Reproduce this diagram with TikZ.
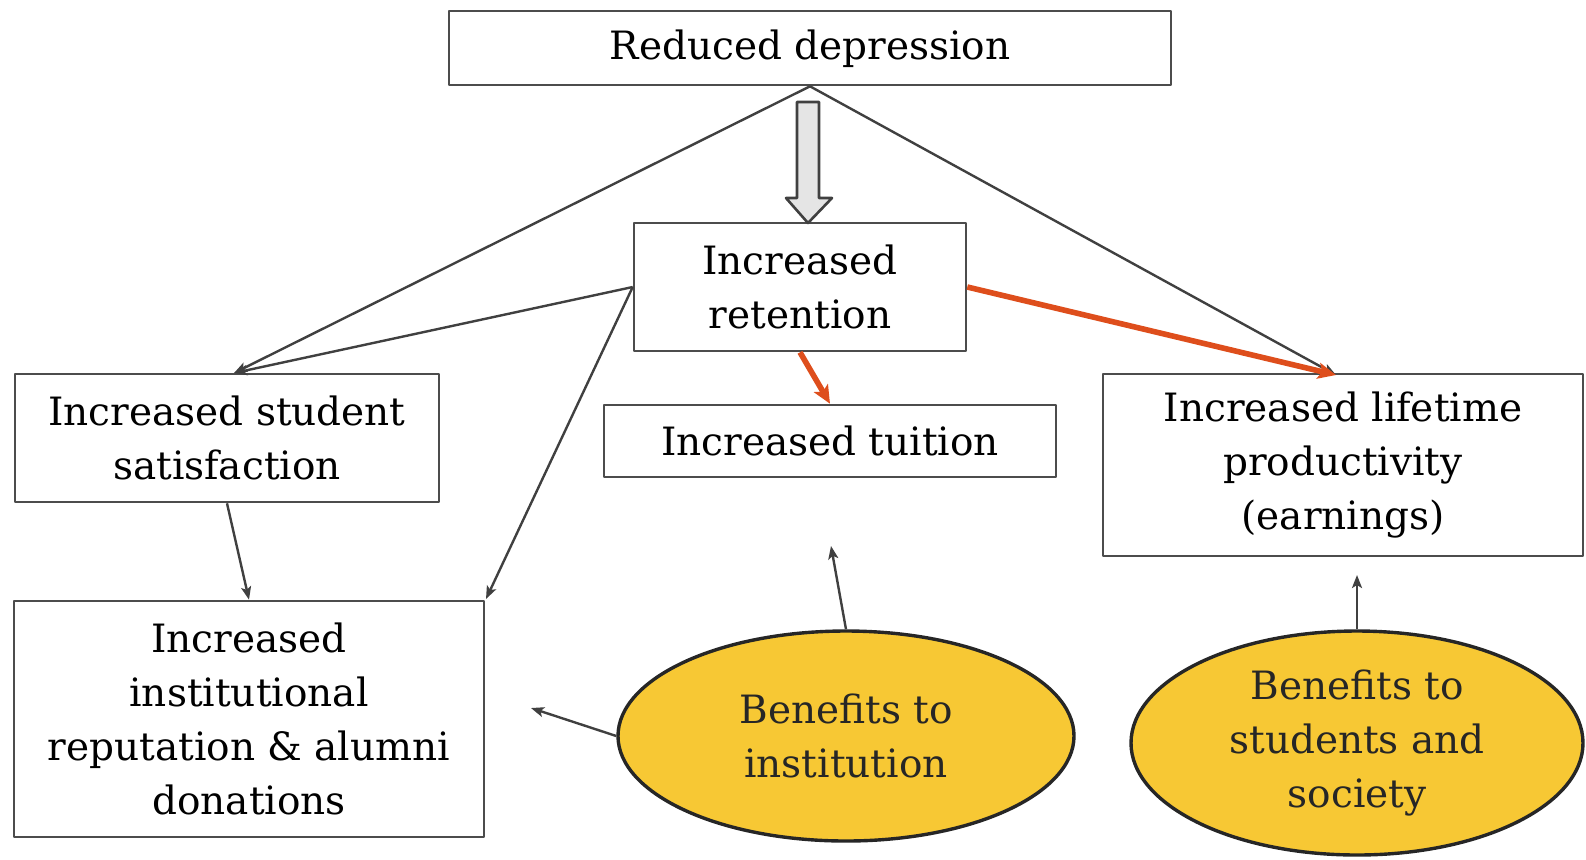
\documentclass[tikz,border=0pt]{standalone}
\usepackage{fontspec}
\setmainfont{DejaVu Serif}
\usetikzlibrary{shapes.geometric,arrows.meta}
\begin{document}
\begin{tikzpicture}[x=0.5pt,y=-0.5pt,>={Stealth[length=6.5pt,width=5pt,inset=1.5pt]}, line join=round]
				\colorlet{box edge}{black!70}
				\colorlet{link}{black!75}
				\definecolor{benefit}{RGB}{247,200,52}
				\definecolor{hot}{RGB}{222,78,28}
				\tikzset{effect/.style={draw=box edge, line width=1.3pt, align=center, inner sep=0pt,
						font=\fontsize{19.5}{27}\selectfont},
					benefits/.style={ellipse, draw=black!85, line width=1.7pt, fill=benefit, align=center,
						inner sep=0pt, text=black!85, font=\fontsize{19.5}{27}\selectfont},
					link/.style={->, draw=link, line width=1.2pt},
					hotlink/.style={-{Stealth[length=9pt,width=8pt,inset=2pt]}, draw=hot, line width=2.8pt}}
				\useasboundingbox (0,0) rectangle (1586,859);
				\node[effect, minimum width=361pt, minimum height=37pt, text depth=3pt] (dep) at (810,48) {Reduced depression};
				\node[effect, minimum width=166pt, minimum height=64pt] (ret) at (800,287) {Increased\\retention};
				\node[effect, minimum width=212pt, minimum height=64pt] (sat) at (227,438) {Increased student\\satisfaction};
				\node[effect, minimum width=226pt, minimum height=36pt] (tui) at (830,441) {Increased tuition};
				\node[effect, minimum width=240pt, minimum height=91pt] (life) at (1343,465) {Increased lifetime\\productivity\\(earnings)};
				\node[effect, minimum width=235pt, minimum height=118pt] (rep) at (249,719) {Increased\\institutional\\reputation \& alumni\\donations};
				\node[benefits, minimum width=228pt, minimum height=105pt] (inst) at (846,736) {Benefits to\\institution};
				\node[benefits, minimum width=226pt, minimum height=112pt] (stud) at (1357,743) {Benefits to\\students and\\society};
				%
				\coordinate (satin) at (234,373);
				\coordinate (lifein) at (1336,375);
				\coordinate (repin) at (486,599);
				\coordinate (tuiout) at (831,546);
				\coordinate (repout) at (531,708);
				\coordinate (lifeout) at (1357,575);
				% hollow arrow
				\draw[draw=black!75, line width=1.3pt, fill=black!10] (797,102) -- (819,102) -- (819,198) -- (832,198)
				-- (808,223) -- (786,198) -- (797,198) -- cycle;
				\draw[link] (dep.south) -- (satin);
				\draw[link] (dep.south) -- (lifein);
				\draw[link] (ret.west) -- (satin);
				\draw[link] (ret.west) -- (repin);
				\draw[link] (sat.south) -- (rep.north);
				\draw[hotlink] (ret.south) -- (tui.north);
				\draw[hotlink] (ret.east) -- (lifein);
				\draw[link] (inst.north) -- (tuiout);
				\draw[link] (inst.west) -- (repout);
				\draw[link] (stud.north) -- (lifeout);
\end{tikzpicture}
\end{document}
